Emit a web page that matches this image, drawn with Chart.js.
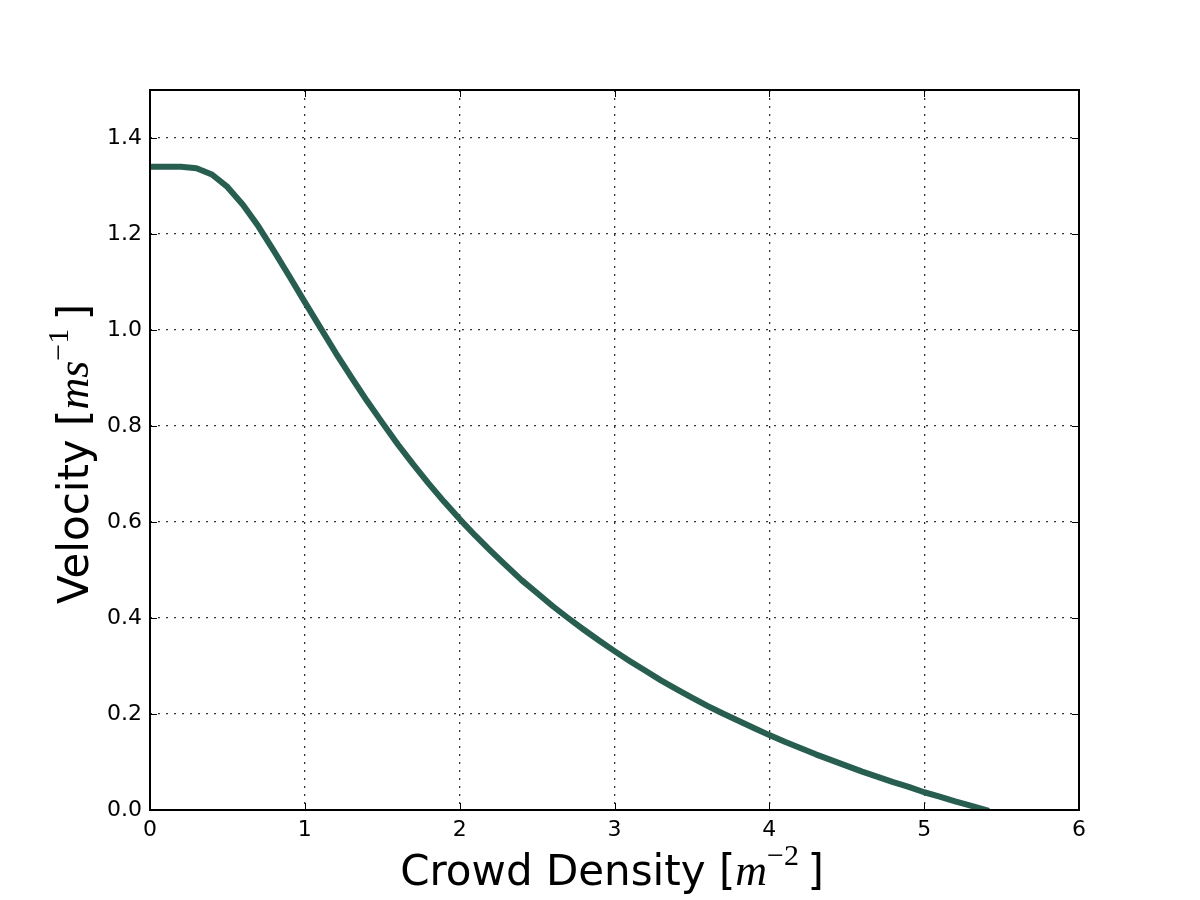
<!DOCTYPE html>
<html>
<head>
<meta charset="utf-8">
<title>Crowd density vs velocity</title>
<script src="https://cdn.jsdelivr.net/npm/chart.js@4.4.1/dist/chart.umd.min.js"></script>
<style>
    html, body { margin: 0; padding: 0; background: #fff; }
    #wrap { width: 1200px; height: 900px; }
</style>
</head>
<body>
<div id="wrap"><canvas id="speedChart" width="1200" height="900"></canvas></div>
<script>
// values
const densities = [
    0.0, 0.1, 0.2, 0.3, 0.4, 0.5, 0.6, 0.7, 0.8, 0.9,
    1.0, 1.1, 1.2, 1.3, 1.4, 1.5, 1.6, 1.7, 1.8, 1.9,
    2.0, 2.1, 2.2, 2.3, 2.4, 2.5, 2.6, 2.7, 2.8, 2.9,
    3.0, 3.1, 3.2, 3.3, 3.4, 3.5, 3.6, 3.7, 3.8, 3.9,
    4.0, 4.1, 4.2, 4.3, 4.4, 4.5, 4.6, 4.7, 4.8, 4.9,
    5.0, 5.1, 5.2, 5.3, 5.4,
];

const velocities = [
    1.340, 1.340, 1.340, 1.337, 1.324, 1.298, 1.261, 1.216, 1.165, 1.112,
    1.058, 1.005, 0.952, 0.902, 0.853, 0.807, 0.762, 0.720, 0.680, 0.642,
    0.606, 0.572, 0.540, 0.509, 0.479, 0.452, 0.425, 0.400, 0.376, 0.353,
    0.331, 0.310, 0.290, 0.270, 0.252, 0.234, 0.217, 0.201, 0.186, 0.171,
    0.156, 0.142, 0.129, 0.116, 0.104, 0.092, 0.080, 0.069, 0.058, 0.048,
    0.037, 0.028, 0.018, 0.009, 0.000,
];

const xTicks = [0, 1, 2, 3, 4, 5, 6];
const yTicks = [0.0, 0.2, 0.4, 0.6, 0.8, 1.0, 1.2, 1.4];

const sans = '"DejaVu Sans", sans-serif';
const serif = '"Liberation Serif", "DejaVu Serif", serif';

// pieces of an axis label: [text, font, raise]
const xTitle = [
    ['Crowd Density [', '42px ' + sans, 0],
    ['m', 'italic 44px ' + serif, 0],
    ['\u22122', '30px ' + serif, 20],
    ['\u2009]', '42px ' + sans, 0],
];
const yTitle = [
    ['Velocity [', '42px ' + sans, 0],
    ['ms', 'italic 44px ' + serif, 0],
    ['\u22121', '30px ' + serif, 20],
    ['\u2009]', '42px ' + sans, 0],
];

function drawPieces(ctx, pieces, cx, baseY) {
    let total = 0;
    pieces.forEach(function (p) {
        ctx.font = p[1];
        total += ctx.measureText(p[0]).width;
    });
    let x = cx - total / 2;
    pieces.forEach(function (p) {
        ctx.font = p[1];
        ctx.fillText(p[0], x, baseY - p[2]);
        x += ctx.measureText(p[0]).width;
    });
}

const framePlugin = {
    id: 'frame',
    afterDraw: function (chart) {
        const ctx = chart.ctx;
        const a = chart.chartArea;
        const sx = chart.scales.x;
        const sy = chart.scales.y;
        ctx.save();

        // inward tick marks on all four sides
        ctx.strokeStyle = '#000';
        ctx.lineWidth = 1;
        ctx.beginPath();
        xTicks.forEach(function (v) {
            const px = Math.round(sx.getPixelForValue(v)) + 0.5;
            ctx.moveTo(px, a.bottom); ctx.lineTo(px, a.bottom - 7);
            ctx.moveTo(px, a.top); ctx.lineTo(px, a.top + 7);
        });
        yTicks.forEach(function (v) {
            const py = Math.round(sy.getPixelForValue(v)) + 0.5;
            ctx.moveTo(a.left, py); ctx.lineTo(a.left + 7, py);
            ctx.moveTo(a.right, py); ctx.lineTo(a.right - 7, py);
        });
        ctx.stroke();

        // frame
        ctx.lineWidth = 2;
        ctx.strokeRect(a.left, a.top, a.right - a.left, a.bottom - a.top);

        // axis titles
        ctx.fillStyle = '#000';
        ctx.textBaseline = 'alphabetic';
        ctx.textAlign = 'left';
        drawPieces(ctx, xTitle, 612, 885);

        ctx.translate(88, 454);
        ctx.rotate(-Math.PI / 2);
        drawPieces(ctx, yTitle, 0, 0);
        ctx.restore();
    }
};

const config = {
    type: 'line',
    data: {
        datasets: [{
            data: densities.map(function (d, i) { return { x: d, y: velocities[i] }; }),
            borderColor: 'rgb(40,94,80)',
            borderWidth: 6,
            borderCapStyle: 'square',
            borderJoinStyle: 'round',
            pointRadius: 0,
            tension: 0,
            fill: false,
        }]
    },
    options: {
        responsive: false,
        animation: false,
        devicePixelRatio: 1,
        layout: {
            padding: { left: 0, top: 90, right: 121, bottom: 0 }
        },
        plugins: {
            legend: { display: false },
            tooltip: { enabled: false },
        },
        scales: {
            x: {
                type: 'linear',
                min: 0,
                max: 6,
                afterBuildTicks: function (scale) {
                    scale.ticks = xTicks.map(function (v) { return { value: v }; });
                },
                afterFit: function (scale) { scale.height = 90; },
                grid: { color: '#333', lineWidth: 1.3, drawTicks: false },
                border: { display: false, dash: [2, 6] },
                ticks: {
                    padding: 7,
                    color: '#000',
                    font: { family: sans, size: 22 },
                    maxRotation: 0,
                    callback: function (v) { return String(v); },
                },
            },
            y: {
                type: 'linear',
                min: 0,
                max: 1.5,
                afterBuildTicks: function (scale) {
                    scale.ticks = yTicks.map(function (v) { return { value: v }; });
                },
                afterFit: function (scale) { scale.width = 150; },
                grid: { color: '#333', lineWidth: 1.3, drawTicks: false },
                border: { display: false, dash: [2, 6] },
                ticks: {
                    padding: 8,
                    color: '#000',
                    font: { family: sans, size: 22 },
                    callback: function (v) { return Number(v).toFixed(1); },
                },
            },
        }
    },
    plugins: [framePlugin],
};

const speedChart = new Chart(document.getElementById('speedChart'), config);
</script>
</body>
</html>
